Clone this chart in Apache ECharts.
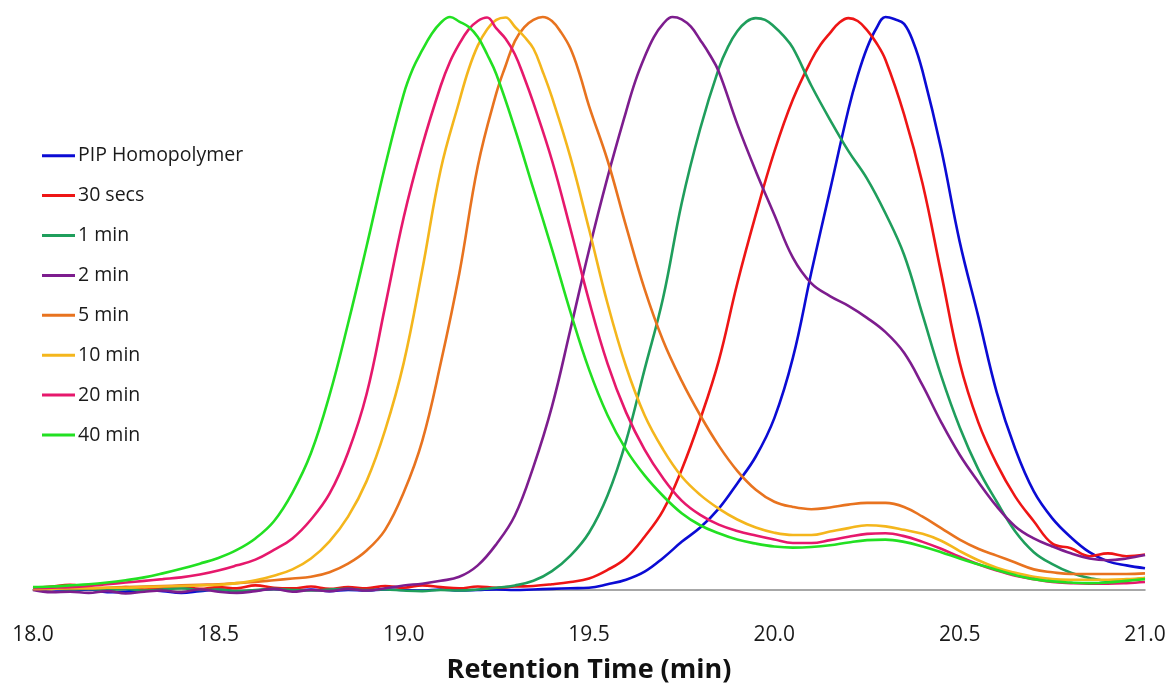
<!DOCTYPE html>
<html><head><meta charset="utf-8">
<script src="https://cdn.jsdelivr.net/npm/echarts@6/dist/echarts.min.js"></script>
<style>html,body{margin:0;padding:0;background:#fff}#c{width:1171px;height:689px}</style>
</head><body><div id="c"></div>
<script>
// Retention time grid (min)
const retentionTime = [
  18.00,18.05,18.10,18.15,18.20,18.25,18.30,18.35,18.40,18.45,
  18.50,18.55,18.60,18.65,18.70,18.75,18.80,18.85,18.90,18.95,
  19.00,19.05,19.10,19.15,19.20,19.25,19.30,19.35,19.40,19.45,
  19.50,19.55,19.60,19.65,19.70,19.75,19.80,19.85,19.90,19.95,
  20.00,20.05,20.10,20.15,20.20,20.25,20.30,20.35,20.40,20.45,
  20.50,20.55,20.60,20.65,20.70,20.75,20.80,20.85,20.90,20.95,
  21.00
];
const xTicks = [18.0, 18.5, 19.0, 19.5, 20.0, 20.5, 21.0];
const seriesNames = ["PIP Homopolymer","30 secs","1 min","2 min","5 min","10 min","20 min","40 min"];

// Normalised detector response (% of peak) on the common grid
const pipHomopolymer = [
  0.2,-0.3,-0.2,0.1,-0.4,-0.3,0.0,-0.2,-0.5,-0.2,
  0.1,-0.3,-0.1,0.2,-0.1,0.1,-0.2,0.0,-0.1,0.1,
  0.0,-0.1,0.1,-0.1,0.0,0.1,0.0,0.1,0.2,0.3,
  0.4,1.0,1.8,3.2,5.6,8.4,10.9,14.2,18.6,23.3,
  30.0,40.5,55.5,69.7,83.9,94.6,100.0,98.8,90.5,77.0,
  60.8,47.8,34.5,24.6,17.2,12.5,9.2,6.6,5.0,4.3,
  3.8
];
const secs30 = [
  0.3,0.6,0.9,0.4,0.2,0.5,0.1,0.4,0.6,0.2,
  0.5,0.3,0.8,0.4,0.3,0.6,0.2,0.5,0.3,0.7,
  0.4,0.8,0.5,0.3,0.6,0.4,0.6,0.7,1.0,1.4,
  2.0,3.5,5.6,9.3,13.9,21.0,29.8,40.0,53.5,65.5,
  76.5,85.6,92.5,97.2,99.8,97.7,92.5,83.0,70.9,55.3,
  39.7,29.3,22.0,16.3,12.0,8.1,7.3,5.9,6.4,5.9,
  6.2
];
const min1 = [
  0.4,0.3,0.1,0.2,0.0,0.2,-0.1,0.1,0.3,0.0,
  0.1,-0.2,0.0,0.2,0.0,-0.1,0.1,0.2,0.0,0.1,
  -0.1,-0.2,0.0,-0.1,0.1,0.4,0.8,1.6,3.3,6.0,
  10.0,16.5,26.0,38.5,51.0,67.5,80.5,91.0,97.5,99.8,
  98.3,94.6,88.0,82.1,76.6,71.8,65.7,58.5,48.0,37.4,
  28.4,21.1,15.4,10.2,6.6,4.5,3.0,2.1,1.6,1.7,
  2.1
];
const min2 = [
  0.0,-0.4,-0.3,-0.5,-0.2,-0.6,-0.3,-0.1,-0.4,0.1,
  -0.3,-0.5,-0.2,0.2,-0.3,0.0,-0.2,0.2,-0.1,0.3,
  0.8,1.1,1.6,2.3,4.3,8.0,13.0,21.5,32.0,45.5,
  59.3,72.0,83.5,93.0,98.8,99.6,96.0,90.5,81.3,73.1,
  65.5,58.0,53.5,51.3,49.6,47.5,45.0,41.4,35.7,29.3,
  23.6,18.9,14.6,11.1,9.0,7.6,6.4,5.5,5.2,5.5,
  6.1
];
const min5 = [
  0.2,0.2,0.3,0.3,0.4,0.5,0.6,0.7,0.8,0.9,
  1.0,1.2,1.4,1.7,2.0,2.3,3.1,4.6,6.9,10.5,
  17.0,26.0,39.6,55.2,74.0,86.7,95.8,99.5,99.3,94.5,
  84.5,75.0,63.5,52.5,43.5,36.5,30.5,25.2,20.8,17.5,
  15.4,14.5,14.1,14.4,14.9,15.2,15.2,14.5,12.8,10.8,
  8.8,7.2,6.0,4.8,3.6,3.1,2.8,2.8,2.8,2.8,
  2.9
];
const min10 = [
  0.2,0.2,0.3,0.3,0.4,0.4,0.5,0.6,0.7,0.8,
  0.9,1.2,1.7,2.5,3.6,5.5,8.5,12.8,19.0,27.9,
  39.6,55.8,73.4,85.3,95.0,99.5,98.3,94.5,86.0,75.5,
  63.0,50.0,39.0,30.5,24.5,19.8,16.6,14.2,12.3,10.9,
  10.0,9.6,9.6,10.2,10.8,11.3,11.1,10.5,9.8,8.6,
  6.8,5.2,3.9,3.0,2.3,1.9,1.8,1.8,1.8,1.9,
  2.1
];
const min20 = [
  0.3,0.4,0.5,0.7,1.0,1.3,1.6,1.9,2.2,2.7,
  3.4,4.3,5.3,7.0,9.0,12.3,16.8,24.0,34.2,49.5,
  65.0,77.5,88.0,95.3,99.3,98.0,93.5,85.0,75.0,63.0,
  50.5,39.5,31.0,24.5,19.5,15.6,13.1,11.4,10.3,9.5,
  8.8,8.2,8.2,8.7,9.3,9.8,9.9,9.4,8.4,7.2,
  5.8,4.5,3.4,2.5,1.9,1.4,1.2,1.1,1.1,1.2,
  1.4
];
const min40 = [
  0.5,0.6,0.8,1.0,1.3,1.7,2.2,2.9,3.7,4.6,
  5.6,7.0,9.0,12.0,17.0,23.9,34.0,46.5,60.0,74.0,
  86.5,94.2,99.0,99.2,96.5,90.0,80.5,70.0,59.5,48.5,
  38.5,30.5,24.5,20.0,16.4,13.4,11.3,9.9,8.8,8.1,
  7.6,7.4,7.5,7.8,8.3,8.7,8.8,8.4,7.6,6.6,
  5.5,4.5,3.5,2.6,1.9,1.5,1.3,1.2,1.3,1.6,
  1.9
];

// Extra readings around each peak top: [retention time, %]
const pipPeak  = [[20.225,89.8],[20.275,98.0],[20.325,99.6],[20.375,95.6]];
const secs30Peak = [[20.125,95.2],[20.175,99.0],[20.225,99.3],[20.275,95.5]];
const min1Peak = [[19.875,94.8],[19.925,99.2],[19.975,99.5],[20.025,96.7]];
const min2Peak = [[19.625,88.8],[19.675,96.5],[19.725,100.0],[19.775,98.3],[19.825,93.5]];
const min5Peak = [[19.275,91.5],[19.325,98.2],[19.375,100.0],[19.425,97.3],[19.475,90.0]];
const min10Peak = [[19.175,90.8],[19.225,97.8],[19.275,99.9],[19.325,96.6],[19.375,90.5]];
const min20Peak = [[19.125,92.2],[19.175,97.8],[19.225,99.9],[19.275,96.2],[19.325,89.5]];
const min40Peak = [[19.025,91.0],[19.075,97.0],[19.125,100.0],[19.175,98.3],[19.225,93.5]];

const seriesValues = [pipHomopolymer, secs30, min1, min2, min5, min10, min20, min40];
const seriesPeaks = [pipPeak, secs30Peak, min1Peak, min2Peak, min5Peak, min10Peak, min20Peak, min40Peak];
const seriesColors = ["#0b0bd4","#ee1515","#1f9e5c","#7d1d8e","#e8731f","#f4b61c","#e6186c","#22e022"];

const chart = echarts.init(document.getElementById('c'));
const FONT = "'Open Sans', sans-serif";
chart.setOption({
  animation: false,
  backgroundColor: '#ffffff',
  color: seriesColors,
  grid: { left: 33, right: 26, top: 17, bottom: 95, containLabel: false },
  legend: {
    orient: 'vertical', left: 42, top: 145, padding: 0,
    icon: 'rect', itemWidth: 33, itemHeight: 3, itemGap: 18.5,
    textStyle: { fontFamily: FONT, fontSize: 19.5, color: '#1a1a1a', lineHeight: 21.4, padding: [0,0,0,-2] },
    data: seriesNames
  },
  xAxis: {
    type: 'value', min: 18, max: 21, interval: 0.5,
    name: 'Retention Time (min)', nameLocation: 'middle', nameGap: 67,
    nameTextStyle: { fontFamily: FONT, fontSize: 27, fontWeight: 'bold', color: '#111' },
    axisLine: { show: true, onZero: true, lineStyle: { color: '#8a8a8a', width: 1.5 } },
    axisTick: { show: false },
    splitLine: { show: false },
    axisLabel: { margin: 35, fontFamily: FONT, fontSize: 21, color: '#1a1a1a',
      formatter: v => (xTicks.includes(+v.toFixed(1)) ? v.toFixed(1) : '') }
  },
  yAxis: { type: 'value', min: 0, max: 100, show: false, splitLine: { show: false } },
  series: seriesNames.map((name, i) => ({
    name, type: 'line', showSymbol: false, smooth: 0.4, clip: false,
    lineStyle: { width: 2.6, color: seriesColors[i] },
    data: retentionTime.map((t, j) => [t, seriesValues[i][j]])
      .concat(seriesPeaks[i])
      .sort((a, b) => a[0] - b[0])
  }))
});
</script></body></html>
